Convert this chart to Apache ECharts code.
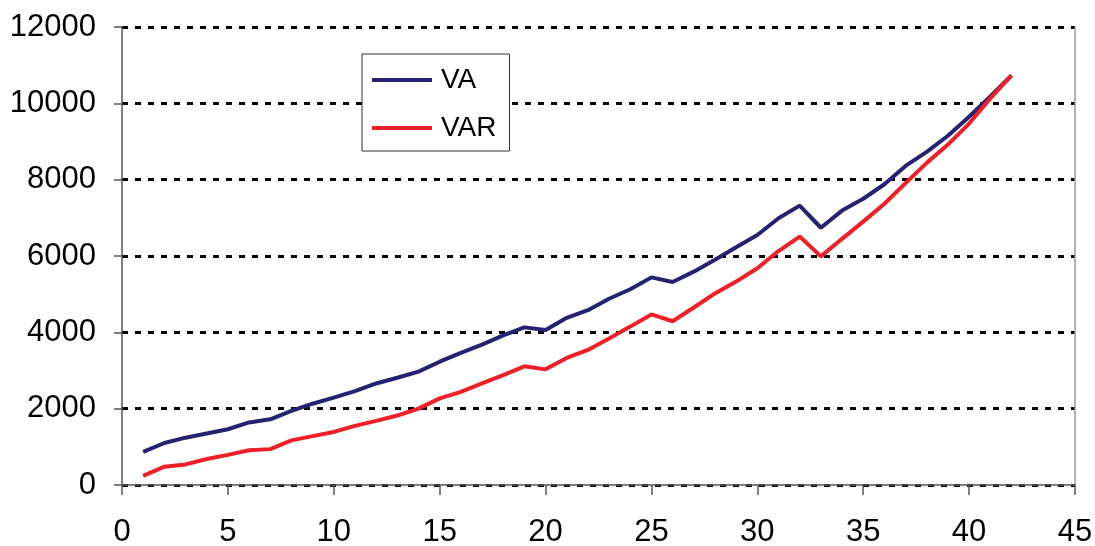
<!DOCTYPE html>
<html>
<head>
<meta charset="utf-8">
<script src="https://cdn.jsdelivr.net/npm/echarts@6/dist/echarts.min.js"></script>
<style>html,body{margin:0;padding:0;background:#fff;}#c{width:1095px;height:546px;}</style>
</head>
<body>
<div id="c"></div>
<script>
const xValues = [1,2,3,4,5,6,7,8,9,10,11,12,13,14,15,16,17,18,19,20,21,22,23,24,25,26,27,28,29,30,31,32,33,34,35,36,37,38,39,40,41,42];
const vaValues = [870,1100,1240,1350,1460,1640,1720,1940,2130,2290,2460,2660,2810,2970,3230,3460,3680,3920,4130,4060,4380,4580,4880,5130,5440,5320,5590,5900,6230,6550,6990,7320,6740,7190,7500,7880,8360,8730,9150,9650,10180,10730];
const varValues = [240,480,540,680,790,910,940,1170,1280,1390,1550,1680,1820,2000,2270,2440,2660,2880,3110,3030,3330,3540,3840,4150,4470,4290,4650,5020,5330,5680,6130,6510,5990,6450,6900,7370,7910,8440,8920,9470,10130,10730];
const yTicks = {min: 0, max: 12000, interval: 2000};
const xTicks = {min: 0, max: 45, interval: 5};

const pair = (ys) => xValues.map((x, i) => [x, ys[i]]);
const font = 'Liberation Sans, Arial, sans-serif';

const chart = echarts.init(document.getElementById('c'), null, {renderer: 'canvas'});
chart.setOption({
  animation: false,
  backgroundColor: '#fff',
  grid: {left: 122, right: 20, top: 27, bottom: 61, containLabel: false, outerBoundsMode: 'none'},
  legend: {
    left: 362, top: 54, orient: 'vertical',
    backgroundColor: '#fff', borderColor: '#333', borderWidth: 1,
    padding: [12, 13, 9, 10], itemGap: 20, itemWidth: 60, itemHeight: 4,
    icon: 'rect',
    textStyle: {fontFamily: font, fontSize: 28, color: '#000', lineHeight: 28, padding: [0, 0, 0, 4]},
    data: ['VA', 'VAR']
  },
  xAxis: {
    type: 'value', min: xTicks.min, max: xTicks.max, interval: xTicks.interval,
    axisLine: {show: true, onZero: false, lineStyle: {color: '#555', width: 1.5}},
    axisTick: {show: true, length: 10, lineStyle: {color: '#555', width: 1.5}},
    axisLabel: {fontFamily: font, fontSize: 31, color: '#000', margin: 32},
    splitLine: {show: false}
  },
  yAxis: [{
    type: 'value', min: yTicks.min, max: yTicks.max, interval: yTicks.interval,
    axisLine: {show: true, lineStyle: {color: '#555', width: 1.5}},
    axisTick: {show: true, length: 8, lineStyle: {color: '#555', width: 1.5}},
    axisLabel: {fontFamily: font, fontSize: 31, color: '#000', margin: 26, formatter: (v) => String(v)},
    splitLine: {show: true, lineStyle: {color: '#000', width: 3, type: [6, 7]}}
  }, {
    type: 'value', position: 'right', min: yTicks.min, max: yTicks.max, interval: yTicks.interval,
    axisLine: {show: true, lineStyle: {color: '#999', width: 1.5}},
    axisTick: {show: false}, axisLabel: {show: false}, splitLine: {show: false}
  }],
  series: [{
    name: 'VA', type: 'line', data: pair(vaValues), symbol: 'none',
    lineStyle: {color: '#232372', width: 4}, itemStyle: {color: '#232372'}, z: 3
  }, {
    name: 'VAR', type: 'line', data: pair(varValues), symbol: 'none',
    lineStyle: {color: '#ee1f26', width: 4}, itemStyle: {color: '#ee1f26'}, z: 4
  }]
});
</script>
</body>
</html>
